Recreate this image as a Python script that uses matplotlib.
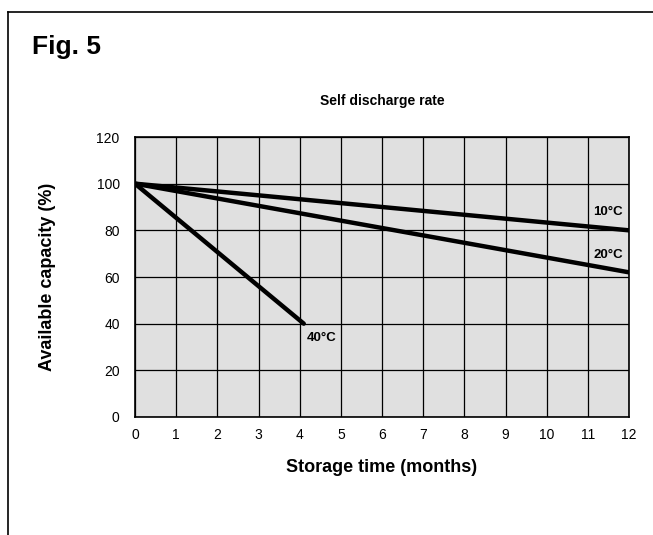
import matplotlib.pyplot as plt
from matplotlib.lines import Line2D

# 資料
months_10 = [0, 12]
cap_10 = [100, 80]
months_20 = [0, 12]
cap_20 = [100, 62]
months_40 = [0, 4.1]
cap_40 = [100, 40]
x_ticks = list(range(0, 13))
y_ticks = [0, 20, 40, 60, 80, 100, 120]

plt.rcParams['font.family'] = ['Liberation Sans Narrow', 'Liberation Sans', 'DejaVu Sans']
bold_font = ['Liberation Sans']

fig = plt.figure(figsize=(6.53, 5.35), dpi=100)
W, H = 653, 535

# 外框 (上方與左方)
fig.add_artist(Line2D([8 / W, 1], [1 - 12 / H, 1 - 12 / H], color='black', lw=1.2))
fig.add_artist(Line2D([8 / W, 8 / W], [0, 1 - 12 / H], color='black', lw=1.2))

fig.text(32 / W, 1 - 47 / H, 'Fig. 5', fontsize=19, fontweight='bold',
         family=bold_font, va='center', ha='left')

# 圖表區
ax = fig.add_axes([135 / W, 1 - 417 / H, (629 - 135) / W, (417 - 137) / H])
ax.set_facecolor('#e0e0e0')

for m, c in [(months_10, cap_10), (months_20, cap_20), (months_40, cap_40)]:
    ax.plot(m, c, color='black', lw=3.2, solid_capstyle='round', zorder=3)

# 溫度標籤
ax.text(11.5, 88, '10°C', fontsize=9.5, fontweight='bold', ha='center', va='center',
        family=bold_font)
ax.text(11.5, 69.5, '20°C', fontsize=9.5, fontweight='bold', ha='center', va='center',
        family=bold_font)
ax.text(4.18, 34, '40°C', fontsize=9.5, fontweight='bold', ha='left', va='center',
        family=bold_font)

ax.set_xlim(0, 12)
ax.set_ylim(0, 120)
ax.set_xticks(x_ticks)
ax.set_yticks(y_ticks)
ax.tick_params(length=0, labelsize=10)
ax.tick_params(axis='x', pad=8)
ax.tick_params(axis='y', pad=11)
ax.grid(True, color='black', lw=0.9)
ax.set_axisbelow(True)
for s in ax.spines.values():
    s.set_linewidth(1.2)

ax.set_title('Self discharge rate', fontsize=10, fontweight='bold', pad=23,
             family=bold_font)
ax.set_xlabel('Storage time (months)', fontsize=13, fontweight='bold', family=bold_font)
ax.set_ylabel('Available capacity (%)', fontsize=13, fontweight='bold', family=bold_font)
ax.xaxis.set_label_coords(0.5, (417 - 468) / 280)
ax.xaxis.label.set_va('center')
ax.yaxis.set_label_coords((48 - 135) / 494, 0.5)
ax.yaxis.label.set_va('center')

fig.savefig('out.png', dpi=100)
